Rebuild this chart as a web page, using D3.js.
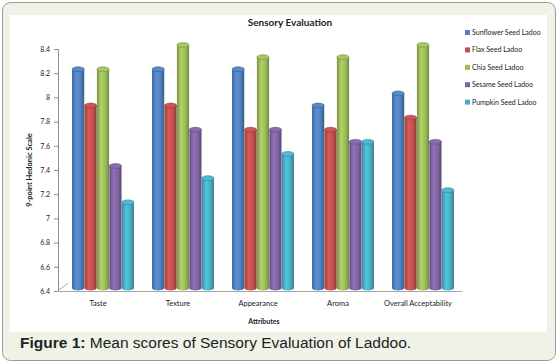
<!DOCTYPE html>
<html>
<head>
<meta charset="utf-8">
<script src="https://cdn.jsdelivr.net/npm/d3@7"></script>
<style>
  body { margin: 0; background: #fff; }
  svg text { font-family: Lato, "Open Sans", sans-serif; fill: #222; }
</style>
</head>
<body>
<svg id="chart" width="558" height="363"></svg>
<script>
const attributes = ['Taste', 'Texture', 'Appearance', 'Aroma', 'Overall Acceptability'];
const samples = ['Sunflower Seed Ladoo', 'Flax Seed Ladoo', 'Chia Seed Ladoo', 'Sesame Seed Ladoo', 'Pumpkin Seed Ladoo'];
const colors = ['#4f81bd', '#c0504d', '#9bbb59', '#8064a2', '#4bacc6'];
// scores per attribute, in sample order
const sunflower = [8.2, 8.2, 8.2, 7.9, 8.0];
const flax      = [7.9, 7.9, 7.7, 7.7, 7.8];
const chia      = [8.2, 8.4, 8.3, 8.3, 8.4];
const sesame    = [7.4, 7.7, 7.7, 7.6, 7.6];
const pumpkin   = [7.1, 7.3, 7.5, 7.6, 7.2];
const yTicks = [6.4, 6.6, 6.8, 7, 7.2, 7.4, 7.6, 7.8, 8, 8.2, 8.4];

const series = [sunflower, flax, chia, sesame, pumpkin];

const svg = d3.select('#chart');

// outer panel + white plot card
svg.append('rect')
    .attr('x', 2.5).attr('y', 2.5).attr('width', 553).attr('height', 358)
    .attr('rx', 8).attr('fill', '#eef2e7').attr('stroke', '#9a9a9a');
svg.append('rect')
    .attr('x', 10).attr('y', 15).attr('width', 537).attr('height', 317)
    .attr('fill', '#fff');

const defs = svg.append('defs');
colors.forEach((c, i) => {
    const g = defs.append('linearGradient').attr('id', 'cyl' + i)
        .attr('x1', 0).attr('x2', 1).attr('y1', 0).attr('y2', 0);
    g.append('stop').attr('offset', 0).attr('stop-color', d3.color(c).darker(0.7));
    g.append('stop').attr('offset', 0.35).attr('stop-color', d3.color(c).brighter(0.35));
    g.append('stop').attr('offset', 0.7).attr('stop-color', c);
    g.append('stop').attr('offset', 1).attr('stop-color', d3.color(c).darker(0.9));
});

const y = d3.scaleLinear().domain([6.4, 8.4]).range([291, 49]);
const x0 = d3.scaleBand().domain(attributes).range([63, 463]).paddingInner(0.22).paddingOuter(0.11);
const x1 = d3.scaleBand().domain(samples).range([0, x0.bandwidth()]).padding(0.02);

// y axis
const yAxis = svg.append('g').attr('transform', 'translate(58,0)')
    .call(d3.axisLeft(y).tickValues(yTicks).tickSize(4).tickFormat(d3.format('')));
yAxis.select('.domain').attr('stroke', '#8c8c8c');
yAxis.selectAll('.tick line').attr('stroke', '#8c8c8c');
yAxis.selectAll('text').attr('font-size', 7).attr('x', -8);

// floor
svg.append('line').attr('x1', 57).attr('x2', 462).attr('y1', 291.5).attr('y2', 291.5)
    .attr('stroke', '#a8a8a8');
svg.append('line').attr('x1', 57).attr('x2', 68).attr('y1', 291.5).attr('y2', 283)
    .attr('stroke', '#a8a8a8');

// cylinders
const ry = 2.4;
const groups = svg.append('g').selectAll('g')
    .data(attributes)
    .join('g')
    .attr('transform', d => `translate(${x0(d)},0)`);

groups.each(function (attr, ai) {
    const g = d3.select(this);
    samples.forEach((s, si) => {
        const v = series[si][ai];
        const bx = x1(s), bw = x1.bandwidth();
        const top = y(v) - 4, base = 288;
        const c = colors[si];
        g.append('ellipse').attr('cx', bx + bw / 2).attr('cy', base).attr('rx', bw / 2).attr('ry', ry)
            .attr('fill', `url(#cyl${si})`);
        g.append('rect').attr('x', bx).attr('y', top).attr('width', bw).attr('height', base - top)
            .attr('fill', `url(#cyl${si})`);
        g.append('ellipse').attr('cx', bx + bw / 2).attr('cy', top).attr('rx', bw / 2).attr('ry', ry)
            .attr('fill', d3.color(c).brighter(0.2)).attr('stroke', d3.color(c).darker(0.8)).attr('stroke-width', 0.6);
    });
});

// category labels
svg.append('g').selectAll('text')
    .data(attributes)
    .join('text')
    .attr('x', d => x0(d) + x0.bandwidth() / 2 - 5)
    .attr('y', 306)
    .attr('text-anchor', 'middle')
    .attr('font-size', 7.5)
    .text(d => d);

// titles
svg.append('text').attr('x', 290).attr('y', 26).attr('text-anchor', 'middle')
    .attr('font-size', 10).attr('font-weight', 'bold').text('Sensory Evaluation');
svg.append('text').attr('x', 264).attr('y', 324).attr('text-anchor', 'middle')
    .attr('font-size', 7).attr('font-weight', 'bold').text('Attributes');
svg.append('text').attr('transform', 'translate(32,170) rotate(-90)').attr('text-anchor', 'middle')
    .attr('font-size', 7.5).attr('font-weight', 'bold').text('9-point Hedonic Scale');

// legend
const legend = svg.append('g').selectAll('g')
    .data(samples)
    .join('g')
    .attr('transform', (d, i) => `translate(465,${33 + i * 17.4})`);
legend.append('rect').attr('x', 0).attr('y', -3).attr('width', 5).attr('height', 5)
    .attr('fill', (d, i) => colors[i]);
legend.append('text').attr('x', 7).attr('y', 2).attr('font-size', 7).text(d => d);

// caption
const cap = svg.append('text').attr('x', 20).attr('y', 348).attr('font-size', 15.5)
    .style('font-family', '"Liberation Sans", Arial, sans-serif');
cap.append('tspan').attr('font-weight', 'bold').text('Figure 1:');
cap.append('tspan').text(' Mean scores of Sensory Evaluation of Laddoo.');
</script>
</body>
</html>
